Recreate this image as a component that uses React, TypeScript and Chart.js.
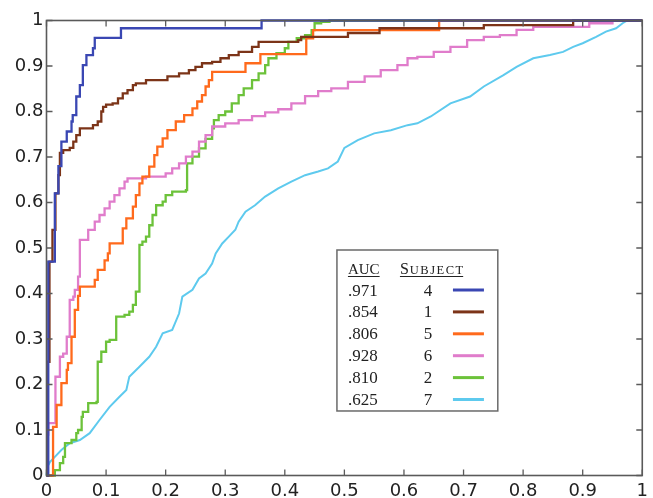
import React, { useEffect, useRef } from "react";
import { Chart, registerables } from "chart.js";

Chart.register(...registerables);

// Axis tick labels
const xTickLabels = ["0", "0.1", "0.2", "0.3", "0.4", "0.5", "0.6", "0.7", "0.8", "0.9", "1"];
const yTickLabels = ["0", "0.1", "0.2", "0.3", "0.4", "0.5", "0.6", "0.7", "0.8", "0.9", "1"];

// Legend table
const subjects = ["4", "1", "5", "6", "2", "7"];
const aucValues = [".971", ".854", ".806", ".928", ".810", ".625"];
const colors = ["#3a47b3", "#7c3418", "#ff6a1c", "#e07ccb", "#6cc23a", "#5ecaee"];
const steppedModes: (string | boolean)[] = ["before", "before", "before", "before", "before", false];

// ROC curves: [false positive rate, true positive rate]
const roc4: [number, number][] = [
  [0, 0], [0.003, 0.47], [0.014, 0.62], [0.02, 0.68], [0.025, 0.734], [0.034, 0.756], [0.042, 0.778],
  [0.044, 0.792], [0.05, 0.833], [0.056, 0.858], [0.061, 0.902], [0.067, 0.924], [0.078, 0.939],
  [0.081, 0.962], [0.125, 0.983], [0.361, 1.0], [1, 1],
];
const roc1: [number, number][] = [
  [0, 0], [0.002, 0.25], [0.005, 0.47], [0.01, 0.54], [0.015, 0.62], [0.02, 0.66], [0.0225, 0.709],
  [0.028, 0.715], [0.039, 0.72], [0.045, 0.734], [0.05, 0.748], [0.056, 0.763], [0.078, 0.77],
  [0.086, 0.778], [0.092, 0.8], [0.095, 0.81], [0.1, 0.815], [0.111, 0.818], [0.12, 0.829],
  [0.128, 0.84], [0.136, 0.847], [0.145, 0.858], [0.15, 0.862], [0.167, 0.869], [0.203, 0.877],
  [0.2225, 0.884], [0.239, 0.891], [0.25, 0.898], [0.261, 0.906], [0.278, 0.909], [0.292, 0.917],
  [0.306, 0.924], [0.3225, 0.931], [0.345, 0.942], [0.356, 0.953], [0.4225, 0.957], [0.4275, 0.964],
  [0.506, 0.9725], [0.559, 0.983], [0.734, 0.99], [0.884, 1.0], [1, 1],
];
const roc5: [number, number][] = [
  [0, 0], [0.011, 0.107], [0.017, 0.155], [0.025, 0.203], [0.034, 0.232], [0.036, 0.247], [0.042, 0.305],
  [0.0475, 0.364], [0.053, 0.395], [0.056, 0.415], [0.081, 0.43], [0.086, 0.452], [0.0975, 0.473],
  [0.103, 0.488], [0.106, 0.51], [0.128, 0.543], [0.134, 0.565], [0.145, 0.591], [0.15, 0.616],
  [0.156, 0.642], [0.161, 0.657], [0.1725, 0.679], [0.181, 0.704], [0.186, 0.723], [0.195, 0.741],
  [0.203, 0.759], [0.217, 0.778], [0.231, 0.792], [0.245, 0.807], [0.253, 0.822], [0.261, 0.836],
  [0.267, 0.855], [0.2725, 0.869], [0.278, 0.887], [0.334, 0.906], [0.359, 0.926], [0.436, 0.961],
  [0.4475, 0.979], [0.659, 1.0], [1, 1],
];
const roc6: [number, number][] = [
  [0, 0], [0.002, 0.09], [0.003, 0.115], [0.015, 0.217], [0.0225, 0.261], [0.028, 0.268], [0.034, 0.305],
  [0.039, 0.386], [0.045, 0.393], [0.0475, 0.408], [0.053, 0.437], [0.056, 0.518], [0.07, 0.54],
  [0.081, 0.558], [0.089, 0.5725], [0.0975, 0.587], [0.106, 0.602], [0.114, 0.616], [0.1225, 0.631],
  [0.131, 0.646], [0.136, 0.653], [0.167, 0.657], [0.2, 0.664], [0.211, 0.675], [0.2225, 0.686],
  [0.234, 0.701], [0.245, 0.712], [0.256, 0.734], [0.267, 0.748], [0.278, 0.767], [0.3, 0.774],
  [0.3225, 0.781], [0.345, 0.79], [0.367, 0.798], [0.389, 0.805], [0.411, 0.818], [0.434, 0.834],
  [0.456, 0.845], [0.478, 0.851], [0.506, 0.865], [0.534, 0.877], [0.561, 0.891], [0.589, 0.902],
  [0.606, 0.917], [0.6225, 0.92], [0.65, 0.931], [0.678, 0.942], [0.706, 0.957], [0.734, 0.964],
  [0.761, 0.968], [0.789, 0.9795], [0.817, 0.986], [0.911, 0.994], [0.95, 1.0], [1, 1],
];
const roc2: [number, number][] = [
  [0, 0], [0.006, 0], [0.014, 0.012], [0.0225, 0.027], [0.028, 0.041], [0.031, 0.071], [0.042, 0.078],
  [0.05, 0.093], [0.053, 0.1], [0.059, 0.129], [0.061, 0.14], [0.07, 0.159], [0.084, 0.162],
  [0.086, 0.25], [0.092, 0.272], [0.1, 0.294], [0.106, 0.298], [0.117, 0.349], [0.131, 0.353],
  [0.139, 0.36], [0.145, 0.375], [0.15, 0.404], [0.156, 0.507], [0.161, 0.514], [0.167, 0.525],
  [0.1725, 0.55], [0.178, 0.5725], [0.184, 0.594], [0.195, 0.602], [0.2, 0.616], [0.211, 0.624],
  [0.234, 0.627], [0.236, 0.686], [0.245, 0.701], [0.256, 0.719], [0.267, 0.74], [0.278, 0.763],
  [0.281, 0.781], [0.289, 0.792], [0.3, 0.8], [0.311, 0.818], [0.3225, 0.836], [0.331, 0.851],
  [0.345, 0.869], [0.356, 0.884], [0.367, 0.902], [0.3725, 0.917], [0.386, 0.928], [0.4, 0.939],
  [0.406, 0.953], [0.42, 0.961], [0.434, 0.968], [0.445, 0.979], [0.45, 0.994], [0.461, 0.997],
  [0.475, 1.0], [1, 1],
];
const roc7: [number, number][] = [
  [0, 0], [0.002, 0.02], [0.006, 0.03], [0.014, 0.041], [0.025, 0.056], [0.039, 0.071], [0.056, 0.078],
  [0.0725, 0.093], [0.089, 0.122], [0.106, 0.151], [0.1225, 0.173], [0.134, 0.188], [0.139, 0.217],
  [0.156, 0.239], [0.1725, 0.261], [0.184, 0.283], [0.195, 0.3125], [0.211, 0.32], [0.2225, 0.356],
  [0.228, 0.393], [0.245, 0.408], [0.256, 0.433], [0.267, 0.444], [0.278, 0.466], [0.284, 0.488],
  [0.295, 0.51], [0.306, 0.525], [0.317, 0.54], [0.3225, 0.558], [0.334, 0.58], [0.35, 0.594],
  [0.367, 0.613], [0.389, 0.631], [0.411, 0.646], [0.434, 0.66], [0.456, 0.668], [0.4725, 0.675],
  [0.489, 0.69], [0.5, 0.72], [0.5225, 0.737], [0.55, 0.752], [0.578, 0.759], [0.606, 0.77],
  [0.6225, 0.774], [0.645, 0.789], [0.678, 0.818], [0.711, 0.833], [0.734, 0.855], [0.767, 0.88],
  [0.789, 0.898], [0.817, 0.917], [0.845, 0.924], [0.867, 0.931], [0.884, 0.942], [0.9, 0.95],
  [0.9225, 0.964], [0.939, 0.9755], [0.956, 0.983], [0.967, 0.994], [0.975, 1.0], [1, 1],
];
const curves = [roc4, roc1, roc5, roc6, roc2, roc7];

const framePlugin = {
  id: "frameAndTable",
  afterDatasetsDraw(chart: any) {
    const { ctx, chartArea } = chart;
    const { left, right, top, bottom } = chartArea;
    const xs = chart.scales.x;
    const ys = chart.scales.y;
    ctx.save();
    // frame
    ctx.strokeStyle = "#5a5a5a";
    ctx.lineWidth = 1.6;
    ctx.strokeRect(left, top, right - left, bottom - top);
    // inward ticks on all four sides
    const tl = 6;
    ctx.lineWidth = 1.3;
    ctx.beginPath();
    xs.ticks.forEach((t: any) => {
      const p = xs.getPixelForValue(t.value);
      ctx.moveTo(p, bottom);
      ctx.lineTo(p, bottom - tl);
      ctx.moveTo(p, top);
      ctx.lineTo(p, top + tl);
    });
    ys.ticks.forEach((t: any) => {
      const p = ys.getPixelForValue(t.value);
      ctx.moveTo(left, p);
      ctx.lineTo(left + tl, p);
      ctx.moveTo(right, p);
      ctx.lineTo(right - tl, p);
    });
    ctx.stroke();

    // legend table
    const bx0 = xs.getPixelForValue(0.4875);
    const bx1 = xs.getPixelForValue(0.7575);
    const by0 = ys.getPixelForValue(0.4956);
    const by1 = ys.getPixelForValue(0.1418);
    ctx.fillStyle = "#ffffff";
    ctx.fillRect(bx0, by0, bx1 - bx0, by1 - by0);
    ctx.strokeStyle = "#6a6a6a";
    ctx.lineWidth = 1.5;
    ctx.strokeRect(bx0, by0, bx1 - bx0, by1 - by0);

    ctx.fillStyle = "#222222";
    ctx.textBaseline = "alphabetic";
    ctx.textAlign = "left";
    const headBase = by0 + 24;
    ctx.font = "15px 'Liberation Serif'";
    const aucX = bx0 + 11;
    ctx.fillText("AUC", aucX, headBase);
    const aucW = ctx.measureText("AUC").width;
    const subX = bx0 + 63;
    ctx.font = "16px 'Liberation Serif'";
    ctx.fillText("S", subX, headBase);
    const sW = ctx.measureText("S").width;
    ctx.font = "12.5px 'Liberation Serif'";
    (ctx as any).letterSpacing = "1.5px";
    ctx.fillText("UBJECT", subX + sW + 1, headBase);
    const restW = ctx.measureText("UBJECT").width;
    (ctx as any).letterSpacing = "0px";
    ctx.strokeStyle = "#222222";
    ctx.lineWidth = 1.2;
    ctx.beginPath();
    ctx.moveTo(aucX, headBase + 2.5);
    ctx.lineTo(aucX + aucW, headBase + 2.5);
    ctx.moveTo(subX, headBase + 2.5);
    ctx.lineTo(subX + sW + 1 + restW - 1.5, headBase + 2.5);
    ctx.stroke();

    ctx.font = "17px 'Liberation Serif'";
    aucValues.forEach((a, i) => {
      const cy = by0 + 40 + i * 21.9;
      ctx.fillStyle = "#222222";
      ctx.textAlign = "left";
      ctx.fillText(a, aucX, cy + 5.5);
      ctx.textAlign = "center";
      ctx.fillText(subjects[i], bx0 + 91, cy + 5.5);
      ctx.strokeStyle = colors[i];
      ctx.lineWidth = 3;
      ctx.beginPath();
      ctx.moveTo(bx0 + 116, cy);
      ctx.lineTo(bx0 + 147, cy);
      ctx.stroke();
    });
    ctx.restore();
  },
};

export default function App() {
  const ref = useRef<HTMLCanvasElement | null>(null);
  useEffect(() => {
    if (!ref.current) return;
    const chart = new Chart(ref.current, {
      type: "line",
      data: {
        datasets: curves.map((c, i) => ({
          label: "Subject " + subjects[i],
          data: c.map(([x, y]) => ({ x, y })),
          borderColor: colors[i],
          backgroundColor: colors[i],
          borderWidth: i === 5 ? 2 : 2.3,
          stepped: steppedModes[i] as any,
          pointRadius: 0,
          fill: false,
          tension: 0,
          clip: 4,
        })),
      },
      options: {
        animation: false,
        responsive: false,
        layout: { padding: { top: 20.5, right: 7, left: 0, bottom: 0 } },
        plugins: { legend: { display: false }, tooltip: { enabled: false } },
        scales: {
          x: {
            type: "linear",
            min: 0,
            max: 1,
            grid: { display: false, drawTicks: false },
            border: { display: false },
            ticks: {
              stepSize: 0.1,
              padding: 5,
              autoSkip: false,
              maxRotation: 0,
              color: "#222222",
              font: { family: "'DejaVu Sans'", size: 18 },
              callback: (_v: any, i: number) => xTickLabels[i],
            },
            afterFit: (s: any) => {
              s.height = 22.5;
            },
          },
          y: {
            type: "linear",
            min: 0,
            max: 1,
            grid: { display: false, drawTicks: false },
            border: { display: false },
            ticks: {
              stepSize: 0.1,
              padding: 3,
              autoSkip: false,
              color: "#222222",
              font: { family: "'DejaVu Sans'", size: 18 },
              callback: (_v: any, i: number) => yTickLabels[i],
            },
            afterFit: (s: any) => {
              s.width = 46.5;
            },
          },
        },
      },
      plugins: [framePlugin],
    });
    return () => chart.destroy();
  }, []);
  return (
    <div style={{ position: "absolute", left: 0, top: 0, width: 653, height: 498, background: "#fff" }}>
      <canvas ref={ref} width={653} height={498} style={{ display: "block" }} />
    </div>
  );
}
